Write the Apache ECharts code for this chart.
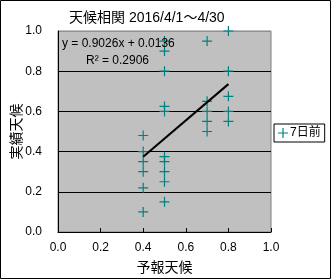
<!DOCTYPE html>
<html><head><meta charset="utf-8">
<script src="https://cdn.jsdelivr.net/npm/echarts@6/dist/echarts.min.js"></script>
<style>html,body{margin:0;padding:0;background:#fff}#c{width:331px;height:279px}</style>
</head><body><div id="c"></div>
<script>
const titleText = '天候相関 2016/4/1～4/30';
const xName = '予報天候';
const yName = '実績天候';
const seriesName = '7日前';
// points grouped by forecast value
const xs = [0.4, 0.5, 0.7, 0.8];
const ys = [
  [0.1, 0.22, 0.3, 0.35, 0.4, 0.48],
  [0.15, 0.25, 0.3, 0.35, 0.375, 0.6, 0.625, 0.8, 0.9, 0.95],
  [0.5, 0.55, 0.6, 0.65, 0.95],
  [0.55, 0.6, 0.675, 0.8, 1.0]
];
const slope = 0.9026, intercept = 0.0136, r2 = 0.2906;
const trendRange = [0.4, 0.8];
const ticks = [0, 0.2, 0.4, 0.6, 0.8, 1.0];

const pts = [];
xs.forEach((x, i) => ys[i].forEach(y => pts.push([x, y])));
const trend = trendRange.map(x => [x, slope * x + intercept]);
const plus = 'path://M4.4,0h1.2v4.4h4.4v1.2h-4.4v4.4h-1.2v-4.4h-4.4v-1.2h4.4z';
const font = 'Liberation Sans, Noto Sans CJK JP, sans-serif';

const chart = echarts.init(document.getElementById('c'), null, {renderer: 'canvas'});
chart.setOption({
  animation: false,
  backgroundColor: '#fff',
  title: {text: titleText, left: 64, top: 6, textStyle: {fontSize: 14, fontWeight: 'normal', color: '#000', fontFamily: font}},
  grid: {left: 58, right: 60, top: 31, bottom: 47, show: true, backgroundColor: '#C0C0C0', borderColor: '#808080', borderWidth: 1, containLabel: false, outerBoundsMode: 'none'},
  legend: {
    left: 274, top: 124, orient: 'vertical', data: [{name: seriesName, icon: plus}],
    itemWidth: 10, itemHeight: 10, itemGap: 2,
    borderColor: '#000', borderWidth: 1, padding: [3, 4, 3, 4], backgroundColor: '#fff',
    textStyle: {fontSize: 12, color: '#000', fontFamily: font, padding: [0, 0, 0, -3]}
  },
  xAxis: {
    type: 'value', min: 0, max: 1, interval: 0.2,
    name: xName, nameLocation: 'middle', nameGap: 29, nameMoveOverlap: false,
    nameTextStyle: {fontSize: 14, color: '#000', fontFamily: font},
    axisLine: {show: true, lineStyle: {color: '#000', width: 1}},
    axisTick: {show: true, inside: true, length: 4, lineStyle: {color: '#000'}},
    axisLabel: {fontSize: 12, color: '#000', fontFamily: font, margin: 10, formatter: v => v.toFixed(1)},
    splitLine: {show: false}
  },
  yAxis: {
    type: 'value', min: 0, max: 1, interval: 0.2,
    name: yName, nameLocation: 'middle', nameGap: 34, nameRotate: 90, nameMoveOverlap: false,
    nameTextStyle: {fontSize: 14, color: '#000', fontFamily: font},
    axisLine: {show: true, lineStyle: {color: '#000', width: 1}},
    axisTick: {show: false},
    axisLabel: {fontSize: 12, color: '#000', fontFamily: font, margin: 16, formatter: v => v.toFixed(1)},
    splitLine: {show: true, lineStyle: {color: ['#000', '#000', '#000', '#000', '#000', '#909090'], width: 1}}
  },
  series: [
    {name: seriesName, type: 'scatter', data: pts, symbol: plus, symbolSize: 10, itemStyle: {color: '#008080', opacity: 1}, z: 3},
    {name: 'trend', type: 'line', data: trend, symbol: 'none', lineStyle: {color: '#000', width: 2}, z: 4, silent: true}
  ],
  graphic: [
    {type: 'rect', shape: {x: 0.5, y: 0.5, width: 330, height: 278}, style: {fill: 'none', stroke: '#000', lineWidth: 1}, z: 100},
    {type: 'text', left: 62, top: 38, style: {text: 'y = ' + slope.toFixed(4) + 'x + ' + intercept.toFixed(4), fontSize: 12, fill: '#000', fontFamily: font}, z: 10},
    {type: 'text', left: 86, top: 55, style: {text: 'R² = ' + r2.toFixed(4), fontSize: 12, fill: '#000', fontFamily: font}, z: 10}
  ]
});
</script></body></html>
